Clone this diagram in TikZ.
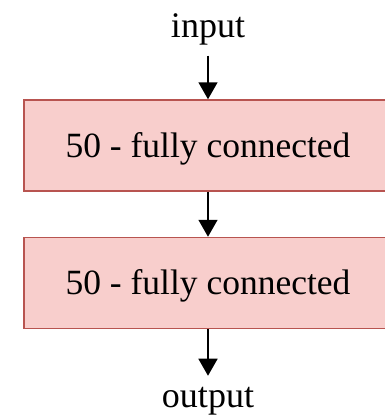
\documentclass[tikz,border=0pt]{standalone}
\usepackage{fontspec}
\setmainfont{Liberation Serif}
\usetikzlibrary{arrows.meta}
\definecolor{rosecouche}{HTML}{F8CECC}
\definecolor{bordcouche}{HTML}{B85450}
\begin{document}
\begin{tikzpicture}[x=1pt,y=1pt]
		\tikzstyle{fleche}=[-{Triangle[width=19pt,length=17pt]},line width=1.6pt]
		\tikzstyle{couche}=[draw=bordcouche,fill=rosecouche,line width=1.5pt,minimum width=368pt,minimum height=91pt,inner sep=0pt,text height=31pt,text depth=8pt,font=\fontsize{35.5}{40}\selectfont]
		\tikzstyle{etiquette}=[inner sep=0pt,outer sep=11pt,font=\fontsize{36}{40}\selectfont]
		\def\Milieu{208}
		\useasboundingbox (0,0) rectangle (385,-418);
		\node[etiquette,anchor=base] (entree) at (\Milieu,-37) {input};
		\node[couche] (couche1) at (\Milieu,-145.5) {50 - fully connected};
		\node[couche] (couche2) at (\Milieu,-283) {50 - fully connected};
		\node[etiquette,anchor=base] (sortie) at (\Milieu,-407) {output};
		\draw[fleche] (entree)--(couche1);
		\draw[fleche] (couche1)--(couche2);
		\draw[fleche] (couche2)--(sortie);
	\end{tikzpicture}
\end{document}
